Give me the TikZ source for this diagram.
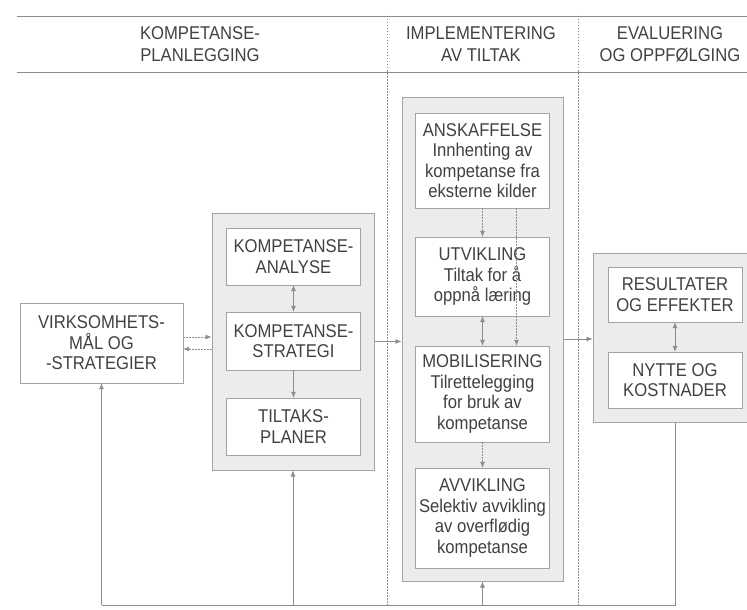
\documentclass[tikz,border=0pt]{standalone}
\usepackage{fontspec}
\setmainfont[FakeStretch=0.9]{Liberation Sans}
\usetikzlibrary{arrows.meta}
\usetikzlibrary{calc}
\usetikzlibrary{positioning}

\definecolor{linegray}{RGB}{140,140,140}
\definecolor{fillgray}{RGB}{236,236,236}
\definecolor{textgray}{RGB}{65,65,65}

\tikzset{
  outerbox/.style={draw=linegray!80, fill=fillgray, line width=1pt},
  innerbox/.style={draw=linegray!80, fill=white, align=center, inner sep=0pt, minimum width=134pt},
  headtext/.style={align=center, font=\fontsize{18.5}{22}\selectfont},
  conn/.style={draw=linegray, line width=0.7pt},
  dotconn/.style={conn, dash pattern=on 1.5pt off 1.5pt},
}

\begin{document}
\begin{tikzpicture}[x=1pt, y=-1pt, text=textgray,
  >={Latex[length=6pt,width=5pt]},
  font=\fontsize{18.5}{20.5}\selectfont]
\useasboundingbox (0,0) rectangle (747,610);

% header
\coordinate (topL) at (17,16);
\coordinate (topR) at (747,16);
\coordinate (midL) at (17,72);
\coordinate (midR) at (747,72);
\coordinate (fbR) at (675,605);
\draw[conn] (topL) -- (topR);
\draw[conn] (midL) -- (midR);
\draw[dotconn] (387,16) -- (387,605);
\draw[dotconn] (578,16) -- (578,605);
\node[headtext] (hplan) at (200,44) {KOMPETANSE-\\PLANLEGGING};
\node[headtext] (himpl) at (481,44) {IMPLEMENTERING\\AV TILTAK};
\node[headtext] (heval) at (670,44) {EVALUERING\\OG OPPFØLGING};

% boxes
\node[innerbox, minimum width=163pt, minimum height=80pt] (virk) at (101.5,343) {VIRKSOMHETS-\\MÅL OG\\-STRATEGIER};

\node[outerbox, minimum width=162pt, minimum height=257pt] (plan) at (293,341.5) {};
\node[innerbox, minimum height=57pt] (analyse) at (293.5,256.5) {KOMPETANSE-\\ANALYSE};
\node[innerbox, minimum height=58pt] (strategi) at (293.5,341) {KOMPETANSE-\\STRATEGI};
\node[innerbox, minimum height=57pt] (tiltak) at (293.5,426.5) {TILTAKS-\\PLANER};

\node[outerbox, minimum width=161pt, minimum height=484pt] (impl) at (482.5,339) {};
\node[innerbox, minimum height=95pt] (anskaff) at (482.5,160.5) {ANSKAFFELSE\\Innhenting av\\kompetanse fra\\eksterne kilder};
\node[innerbox, minimum height=79pt] (utvikl) at (482.5,276.5) {UTVIKLING\\Tiltak for å\\oppnå læring};
\node[innerbox, minimum height=96pt] (mobil) at (482.5,394) {MOBILISERING\\Tilrettelegging\\for bruk av\\kompetanse};
\node[innerbox, minimum height=100pt] (avvikl) at (482.5,518) {AVVIKLING\\Selektiv avvikling\\av overflødig\\kompetanse};

\node[outerbox, minimum width=154pt, minimum height=169pt] (eval) at (670,337.5) {};
\node[innerbox, minimum height=55pt] (result) at (675,294.5) {RESULTATER\\OG EFFEKTER};
\node[innerbox, minimum height=56pt] (nytte) at (675,380) {NYTTE OG\\KOSTNADER};

% arrows
\draw[dotconn,->] ($(virk.east)+(0,-6)$) -- ($(virk.east -| plan.west)+(0,-6)$);
\draw[dotconn,->] ($(virk.east -| plan.west)+(0,6)$) -- ($(virk.east)+(0,6)$);
\draw[conn,<->] (analyse) -- (strategi);
\draw[conn,->] (strategi) -- (tiltak);
\draw[conn,->] (plan.east) -- (plan.east -| impl.west);
\draw[dotconn,->] (anskaff) -- (utvikl);
\draw[dotconn,->] ($(anskaff.south)+(34,0)$) -- ($(anskaff.south |- mobil.north)+(34,0)$);
\draw[conn,<->] (utvikl) -- (mobil);
\draw[dotconn,->] (mobil) -- (avvikl);
\draw[conn,->] (impl.east) -- (impl.east -| eval.west);
\draw[conn,<->] (result) -- (nytte);

% feedback loop
\draw[conn] (nytte.south |- eval.south) -- (fbR) -- (virk.south |- fbR);
\draw[conn,->] (virk.south |- fbR) -- (virk.south);
\draw[conn,->] (plan.south |- fbR) -- (plan.south);
\draw[conn,->] (impl.south |- fbR) -- (impl.south);
\end{tikzpicture}
\end{document}
